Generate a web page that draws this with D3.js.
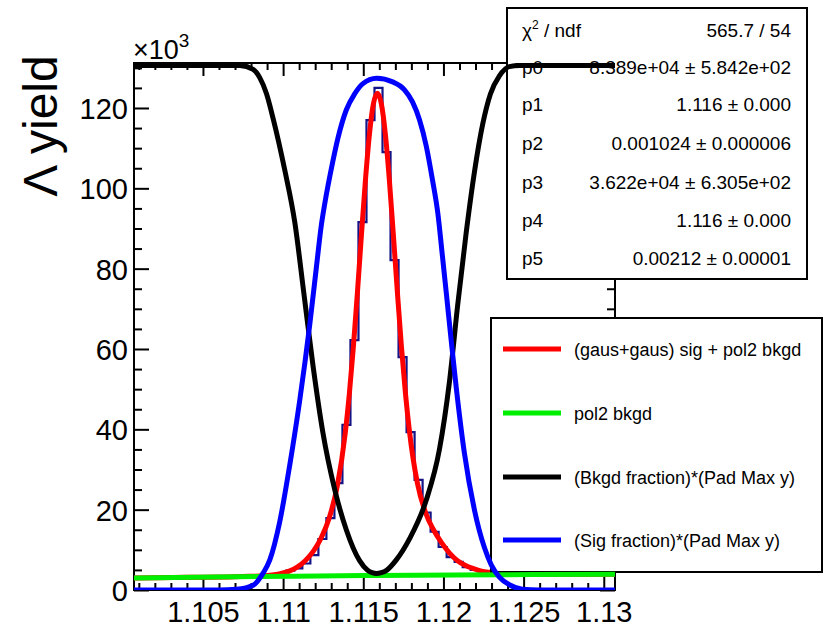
<!DOCTYPE html>
<html>
<head>
<meta charset="utf-8">
<script src="https://cdn.jsdelivr.net/npm/d3@7"></script>
<style>
  body { margin: 0; background: #fff; }
  text { font-family: "Liberation Sans", Arial, sans-serif; fill: #000; }
</style>
</head>
<body>
<svg id="chart" width="831" height="630"></svg>
<script>
// ---- data (yields in units of 10^3) ----
const histLow = 1.1007;          // low edge of first bin
const histBinWidth = 0.0005;
const histCounts = [
  3.0, 3.0, 3.05, 3.1, 3.1, 3.15, 3.2, 3.2, 3.25, 3.3,
  3.3, 3.35, 3.4, 3.4, 3.45, 3.5, 3.6, 3.8, 4.1, 4.8,
  5.4, 6.6, 8.7, 12.7, 17.9, 26.6, 41.1, 62.2, 91.6, 117.0,
  125.0, 109.0, 82.1, 58.0, 39.3, 27.4, 19.3, 14.5, 10.7, 8.2,
  7.0, 5.7, 5.0, 4.5, 4.3, 4.1, 4.0, 3.95, 3.9, 3.9,
  3.9, 3.9, 3.9, 3.9, 3.95, 3.95, 3.95, 3.95, 4.0, 4.0
];

// (gaus+gaus) sig + pol2 bkgd
const fitX = [1.1007, 1.1040, 1.1070, 1.10788, 1.10888, 1.10988, 1.11038, 1.11088, 1.11138, 1.11188,
  1.11238, 1.11288, 1.11338, 1.11388, 1.11413, 1.11438, 1.11463, 1.11488, 1.11513, 1.11538,
  1.11563, 1.11588, 1.11613, 1.11638, 1.11663, 1.11688, 1.11713, 1.11738, 1.11763, 1.11788,
  1.11838, 1.11888, 1.11938, 1.11988, 1.12038, 1.12088, 1.12138, 1.12188, 1.12238, 1.12288,
  1.12388, 1.12588, 1.1307];
const fitY = [3.0, 3.15, 3.3, 3.4, 3.55, 4.1, 4.7, 5.7, 7.3, 9.6,
  13.0, 18.0, 25.9, 39.2, 48.8, 60.4, 73.8, 88.1, 101.8, 113.3,
  121.0, 123.7, 121.0, 113.4, 101.9, 88.2, 74.0, 60.6, 49.0, 39.5,
  26.5, 19.3, 15.0, 11.8, 9.2, 7.3, 6.1, 5.3, 4.7, 4.4,
  4.1, 3.9, 3.95];

// pol2 bkgd
const bkgX = [1.1007, 1.1057, 1.1107, 1.1157, 1.1207, 1.1257, 1.1307];
const bkgY = [3.0, 3.25, 3.45, 3.6, 3.75, 3.85, 3.95];

// (Sig fraction)*(Pad Max y)
const sigFracX = [1.1007, 1.1060, 1.10710, 1.10813, 1.10875, 1.10917, 1.10979, 1.11041, 1.11104, 1.11166,
  1.11208, 1.11239, 1.11259, 1.11309, 1.11342, 1.11394, 1.11446, 1.11496, 1.11583, 1.11683,
  1.11757, 1.11807, 1.11851, 1.11893, 1.11932, 1.11965, 1.11994, 1.12019, 1.12050, 1.12081,
  1.12131, 1.12193, 1.12256, 1.12299, 1.12349, 1.12411, 1.12492, 1.12598, 1.1307];
const sigFrac = [0, 0, 0.2, 1.2, 4.2, 7.5, 17, 31, 47.3, 66,
  80.5, 91, 96, 106.5, 112.5, 119.5, 123.5, 126, 127.4, 126.5,
  124.5, 121.5, 117, 110.5, 102, 93.8, 83, 73.5, 61.5, 50,
  34, 20, 10.5, 6.2, 3.2, 1.3, 0.2, 0, 0];

// (Bkgd fraction)*(Pad Max y)
const bkgFracX = [1.1007, 1.1073, 1.10813, 1.10855, 1.10896, 1.10937, 1.11010, 1.11073, 1.11129, 1.11186,
  1.11249, 1.11322, 1.11394, 1.11477, 1.11527, 1.11555, 1.11583, 1.11612, 1.11645, 1.11706,
  1.11789, 1.11893, 1.11975, 1.12038, 1.12089, 1.12142, 1.12193, 1.12245, 1.12293, 1.12349,
  1.12411, 1.12474, 1.1307];
const bkgFrac = [130.6, 130.6, 129.6, 127.5, 123.6, 117.5, 104.6, 91.5, 74, 56,
  39, 25, 15, 7.3, 4.9, 4.3, 4.1, 4.3, 4.9, 7.5,
  12.8, 22.4, 35, 52, 71, 89, 104, 116, 123.5, 128,
  130.3, 130.6, 130.6];

const xTickValues = [1.105, 1.11, 1.115, 1.12, 1.125, 1.13];
const xTickLabels = ["1.105", "1.11", "1.115", "1.12", "1.125", "1.13"];
const yTickValues = [0, 20, 40, 60, 80, 100, 120];

const statsRows = [
  ["p0", "8.389e+04 \u00b1 5.842e+02"],
  ["p1", "1.116 \u00b1 0.000"],
  ["p2", "0.001024 \u00b1 0.000006"],
  ["p3", "3.622e+04 \u00b1 6.305e+02"],
  ["p4", "1.116 \u00b1 0.000"],
  ["p5", "0.00212 \u00b1 0.00001"]
];
const chi2Text = "565.7 / 54";

const legendLabels = ["(gaus+gaus) sig + pol2 bkgd", "pol2 bkgd",
  "(Bkgd fraction)*(Pad Max y)", "(Sig fraction)*(Pad Max y)"];
const legendColors = ["#ff0000", "#00ee00", "#000000", "#0000ff"];

// ---- layout ----
const svg = d3.select("#chart");
const frame = {left: 134, right: 615, top: 63, bottom: 590};

const x = d3.scaleLinear().domain([1.1007, 1.1307]).range([frame.left, frame.right]);
const y = d3.scaleLinear().domain([0, 131.2]).range([frame.bottom, frame.top]);

svg.append("rect").attr("width", 831).attr("height", 630).attr("fill", "#fff");

// axes: major + minor ticks on all four sides
const xMinor = d3.range(1.101, 1.1305, 0.001).filter(v => !xTickValues.some(t => Math.abs(t - v) < 1e-6));
const yMinor = d3.range(5, 131, 5).filter(v => v % 20 !== 0);

function styleAxis(g) {
  g.select(".domain").remove();
  g.selectAll(".tick line").attr("stroke", "#000").attr("stroke-width", 2);
}

svg.append("g").attr("transform", `translate(0,${frame.bottom})`)
  .call(d3.axisBottom(x).tickValues(xTickValues).tickSize(-13).tickPadding(11)
    .tickFormat((d, i) => xTickLabels[i]))
  .call(styleAxis)
  .selectAll("text").attr("font-size", 29).attr("font-family", "Liberation Sans, Arial, sans-serif").attr("fill", "#000");
svg.append("g").attr("transform", `translate(0,${frame.bottom})`)
  .call(d3.axisBottom(x).tickValues(xMinor).tickSize(-7).tickFormat(""))
  .call(styleAxis);
svg.append("g").attr("transform", `translate(0,${frame.top})`)
  .call(d3.axisTop(x).tickValues(xTickValues).tickSize(-13).tickFormat(""))
  .call(styleAxis);
svg.append("g").attr("transform", `translate(0,${frame.top})`)
  .call(d3.axisTop(x).tickValues(xMinor).tickSize(-7).tickFormat(""))
  .call(styleAxis);

svg.append("g").attr("transform", `translate(${frame.left},0)`)
  .call(d3.axisLeft(y).tickValues(yTickValues).tickSize(-15).tickPadding(6))
  .call(styleAxis)
  .selectAll("text").attr("font-size", 29).attr("dy", "0.36em")
  .attr("font-family", "Liberation Sans, Arial, sans-serif").attr("fill", "#000");
svg.append("g").attr("transform", `translate(${frame.left},0)`)
  .call(d3.axisLeft(y).tickValues(yMinor).tickSize(-8).tickFormat(""))
  .call(styleAxis);
svg.append("g").attr("transform", `translate(${frame.right},0)`)
  .call(d3.axisRight(y).tickValues(yTickValues).tickSize(-15).tickFormat(""))
  .call(styleAxis);
svg.append("g").attr("transform", `translate(${frame.right},0)`)
  .call(d3.axisRight(y).tickValues(yMinor).tickSize(-8).tickFormat(""))
  .call(styleAxis);

svg.append("rect")
  .attr("x", frame.left).attr("y", frame.top)
  .attr("width", frame.right - frame.left).attr("height", frame.bottom - frame.top)
  .attr("fill", "none").attr("stroke", "#000").attr("stroke-width", 2);

// exponent and axis title
const expo = svg.append("text").attr("x", 133).attr("y", 59).attr("font-size", 27);
expo.append("tspan").text("\u00d710");
expo.append("tspan").attr("font-size", 19).attr("dy", -12).text("3");

svg.append("text")
  .attr("transform", "translate(57,126) rotate(-90)")
  .attr("text-anchor", "middle").attr("font-size", 48)
  .text("\u039b yield");

// clip for the drawn functions
svg.append("clipPath").attr("id", "plotClip")
  .append("rect").attr("x", frame.left).attr("y", frame.top)
  .attr("width", frame.right - frame.left).attr("height", frame.bottom - frame.top);

const plot = svg.append("g").attr("clip-path", "url(#plotClip)");

// histogram outline
const histPts = histCounts.map((c, i) => [histLow + i * histBinWidth, c]);
histPts.push([histLow + histCounts.length * histBinWidth, histCounts[histCounts.length - 1]]);
plot.append("path")
  .attr("d", d3.line().x(d => x(d[0])).y(d => y(d[1])).curve(d3.curveStepAfter)(histPts))
  .attr("fill", "none").attr("stroke", "#141488").attr("stroke-width", 2.2);

const curveLine = d3.line().x(d => x(d[0])).y(d => y(d[1])).curve(d3.curveMonotoneX);
const zip = (xs, ys) => xs.map((v, i) => [v, ys[i]]);

plot.append("path").attr("d", curveLine(zip(fitX, fitY)))
  .attr("fill", "none").attr("stroke", legendColors[0]).attr("stroke-width", 5);

// stats box
const stats = svg.append("g");
stats.append("rect").attr("x", 507).attr("y", 8).attr("width", 300).attr("height", 271)
  .attr("fill", "#fff").attr("stroke", "#000").attr("stroke-width", 2);
const rowY = [37, 74, 111, 150, 189, 227, 265];
const chiLabel = stats.append("text").attr("x", 522).attr("y", rowY[0]).attr("font-size", 19);
chiLabel.append("tspan").text("\u03c7");
chiLabel.append("tspan").attr("font-size", 12).attr("dy", -8).text("2");
chiLabel.append("tspan").attr("dy", 8).text(" / ndf");
stats.append("text").attr("x", 791).attr("y", rowY[0]).attr("font-size", 19)
  .attr("text-anchor", "end").text(chi2Text);
stats.selectAll(".plabel").data(statsRows).enter().append("text")
  .attr("x", 522).attr("y", (d, i) => rowY[i + 1]).attr("font-size", 19).text(d => d[0]);
stats.selectAll(".pval").data(statsRows).enter().append("text")
  .attr("x", 791).attr("y", (d, i) => rowY[i + 1]).attr("font-size", 19)
  .attr("text-anchor", "end").text(d => d[1]);

// legend
const legend = svg.append("g");
legend.append("rect").attr("x", 491).attr("y", 318).attr("width", 331).attr("height", 254)
  .attr("fill", "#fff").attr("stroke", "#000").attr("stroke-width", 2);
const legY = [349, 413, 477, 540];
legendLabels.forEach((lab, i) => {
  legend.append("line").attr("x1", 503).attr("x2", 561).attr("y1", legY[i]).attr("y2", legY[i])
    .attr("stroke", legendColors[i]).attr("stroke-width", 5);
  legend.append("text").attr("x", 574).attr("y", legY[i] + 6.5).attr("font-size", 18).text(lab);
});

// functions drawn last (on top of the boxes)
const overlay = svg.append("g").attr("clip-path", "url(#plotClip)");
overlay.append("path").attr("d", curveLine(zip(bkgX, bkgY)))
  .attr("fill", "none").attr("stroke", legendColors[1]).attr("stroke-width", 5);
overlay.append("path").attr("d", curveLine(zip(bkgFracX, bkgFrac)))
  .attr("fill", "none").attr("stroke", legendColors[2]).attr("stroke-width", 5);
overlay.append("path").attr("d", curveLine(zip(sigFracX, sigFrac)))
  .attr("fill", "none").attr("stroke", legendColors[3]).attr("stroke-width", 5);
</script>
</body>
</html>
